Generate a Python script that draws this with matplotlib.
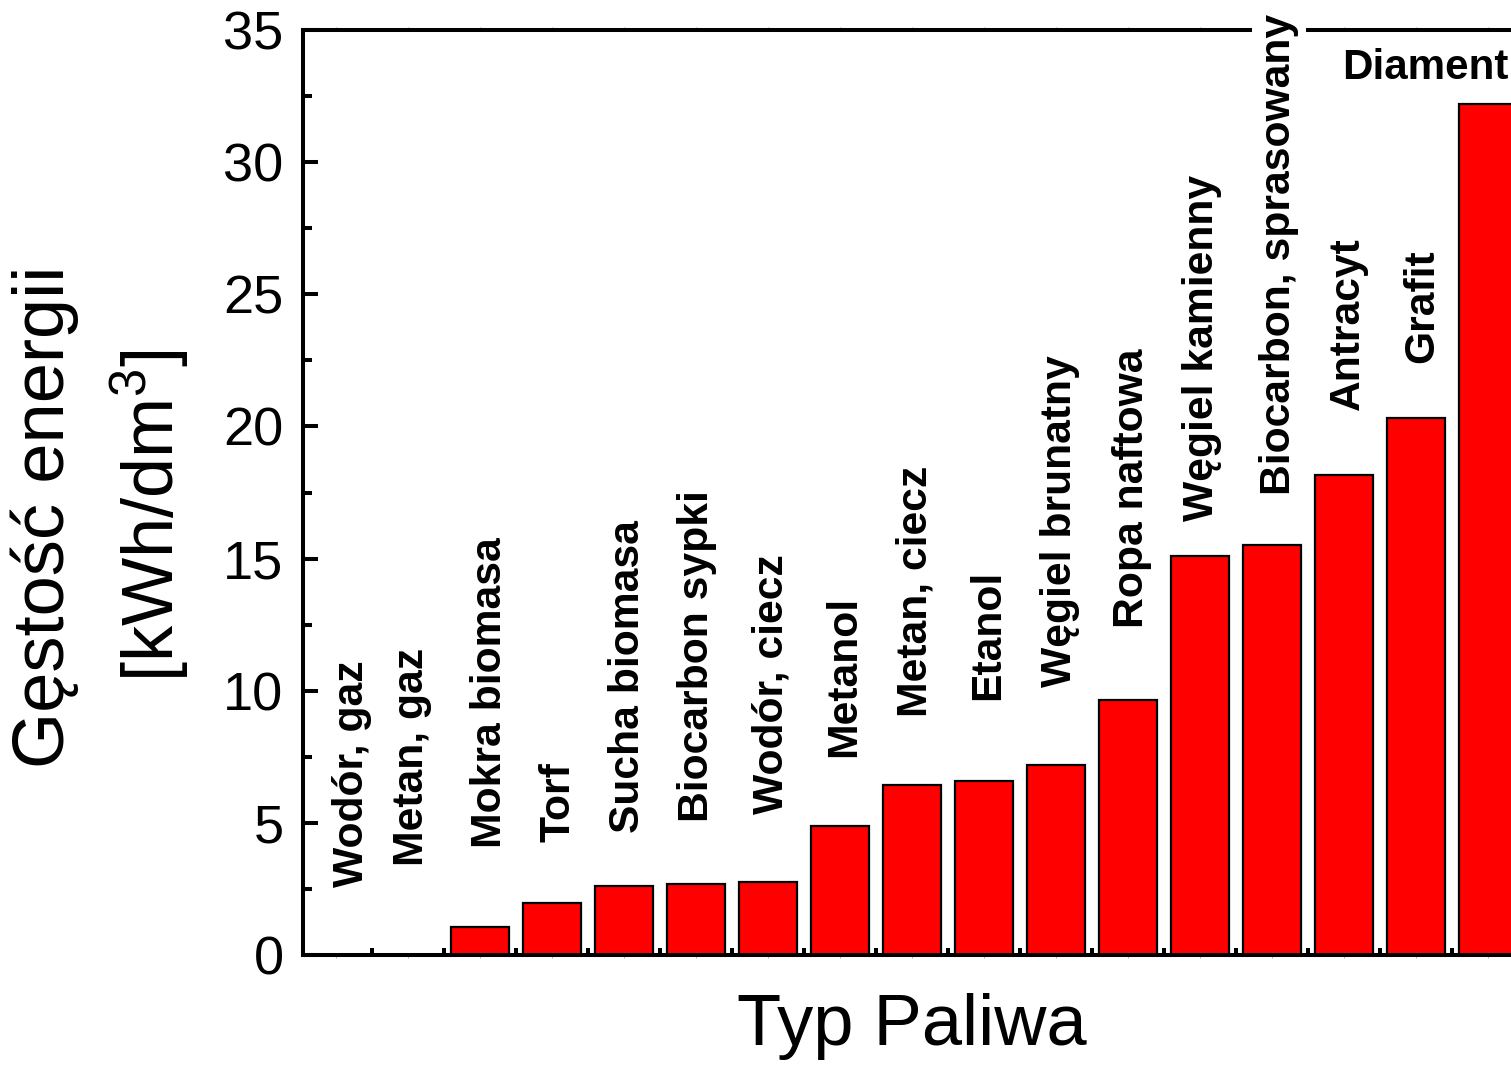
import matplotlib
matplotlib.use("Agg")
import matplotlib.pyplot as plt
from matplotlib.ticker import MultipleLocator, FixedLocator
import numpy as np

plt.rcParams['font.family'] = ['Liberation Sans', 'DejaVu Sans']
plt.rcParams['mathtext.fontset'] = 'custom'
plt.rcParams['mathtext.rm'] = 'Liberation Sans'
plt.rcParams['mathtext.default'] = 'regular'

categories = ["Wodór, gaz", "Metan, gaz", "Mokra biomasa", "Torf", "Sucha biomasa",
              "Biocarbon sypki", "Wodór, ciecz", "Metanol", "Metan, ciecz", "Etanol",
              "Węgiel brunatny", "Ropa naftowa", "Węgiel kamienny",
              "Biocarbon, sprasowany", "Antracyt", "Grafit", "Diament"]
values = [0.003, 0.01, 1.06, 1.97, 2.61, 2.69, 2.76, 4.88, 6.43, 6.58, 7.19,
          9.65, 15.10, 15.51, 18.16, 20.32, 32.2]
# start position (data units) of each rotated label
label_y = [2.57, 3.37, 4.05, 4.28, 4.62, 5.03, 5.33, 7.49, 9.0, 9.65, 10.14,
           12.37, 16.42, 17.4, 20.62, 22.4, None]
# small horizontal shifts of the labels (category units)
label_dx = [0.17, 0.0, 0.08, 0.04, 0.0, -0.04, -0.01, 0.0, 0.0, 0.0, 0.0,
            0.0, -0.03, 0.04, 0.0, 0.03, 0.0]
yticks = [0, 5, 10, 15, 20, 25, 30, 35]

W, H = 1511, 1066
fig = plt.figure(figsize=(W / 100, H / 100), dpi=100)
x0 = np.arange(len(categories))
xmin, xmax = -0.458, 16.6
px_per_unit = 72
left_px, bottom_px, top_px = 303, 955, 30
width_px = (xmax - xmin) * px_per_unit
ax = fig.add_axes([left_px / W, 1 - bottom_px / H, width_px / W, (bottom_px - top_px) / H])

ax.bar(x0, values, width=0.8, color='#ff0000', edgecolor='black', linewidth=1.6, zorder=2)
ax.set_xlim(xmin, xmax)
ax.set_ylim(0, 35)

for s in ax.spines.values():
    s.set_linewidth(2.9)
    s.set_zorder(2.5)

ax.yaxis.set_major_locator(FixedLocator(yticks))
ax.yaxis.set_minor_locator(MultipleLocator(2.5))
ax.tick_params(axis='y', which='major', direction='in', length=11, width=2.9,
               labelsize=39, pad=14)
ax.tick_params(axis='y', which='minor', direction='in', length=6.5, width=2.9)
ax.tick_params(axis='y', right=False, which='both')

ax.xaxis.set_major_locator(FixedLocator(x0))
ax.xaxis.set_minor_locator(FixedLocator(x0[:-1] + 0.5))
ax.tick_params(axis='x', which='major', direction='out', length=2.5, width=0.6,
               color='#999999', labelbottom=False, top=True)
ax.tick_params(axis='x', which='minor', direction='in', length=5, width=2.9,
               top=False)

base_dx = 4 / px_per_unit
for i, (cat, ly, dx) in enumerate(zip(categories, label_y, label_dx)):
    if ly is None:
        continue
    ax.text(i + base_dx + dx, ly, cat, rotation=90, ha='center', va='bottom',
            fontsize=30.7, fontweight='bold', clip_on=False, zorder=3,
            bbox=dict(facecolor='white', edgecolor='none', pad=5) if i == 13 else None)

ax.text(15.125, 33.56, categories[-1], ha='center', va='center', fontsize=30.3,
        fontweight='bold', zorder=3)

fig.text(45 / W, 1 - 517 / H, "Gęstość energii", rotation=90, ha='center',
         va='center', fontsize=52)
fig.text(150 / W, 1 - 516 / H, "[kWh/dm$^3$]", rotation=90, ha='center',
         va='center', fontsize=52)
fig.text(912 / W, 1 - 1027 / H, "Typ Paliwa", ha='center', va='center', fontsize=52)

fig.savefig("out.png", dpi=100)
